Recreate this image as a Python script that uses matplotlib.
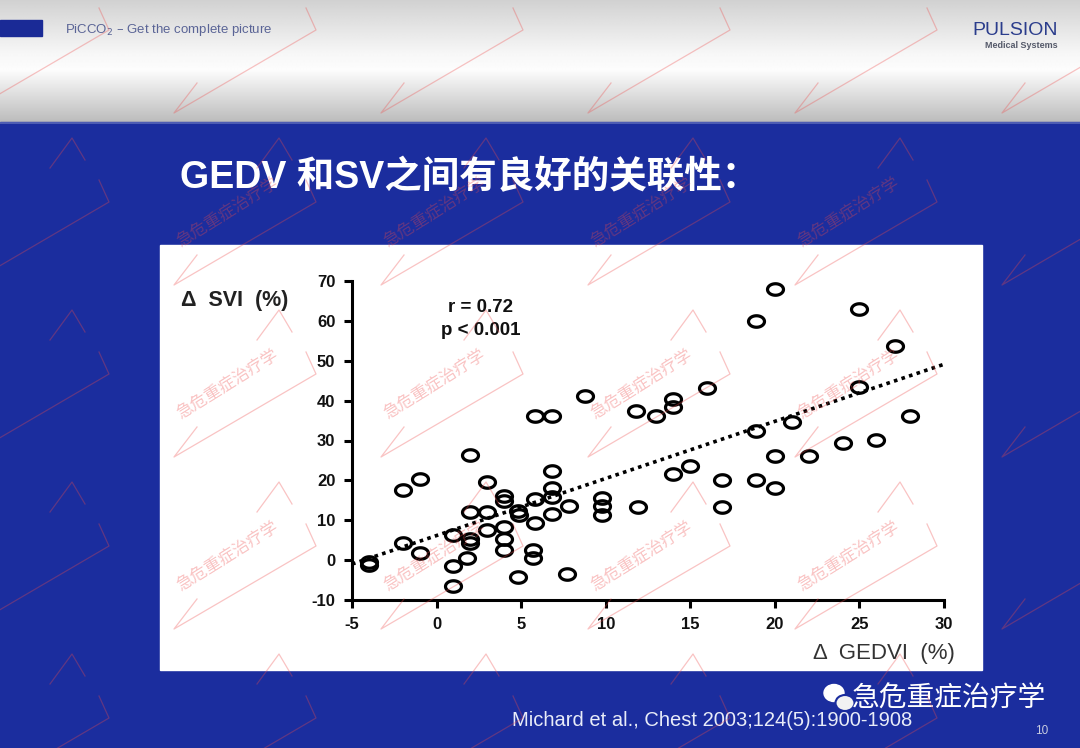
import numpy as np
import matplotlib
matplotlib.use('Agg')
import matplotlib.pyplot as plt
from matplotlib.patches import Rectangle, Ellipse
from matplotlib.path import Path

# Δ GEDVI (%) vs Δ SVI (%)
gedvi = [-4, -4, -2, -1, -2, -1, 1, 1, 1, 2, 2, 2, 2, 1.8, 3, 3, 3,
         4, 4, 4, 4, 4, 4.8, 4.9, 4.8, 5.8, 5.8, 5.7, 5.7, 5.8, 6.8,
         6.8, 6.8, 6.8, 6.8, 7.8, 7.7, 8.8, 9.8, 9.8, 9.8, 11.8, 11.9,
         13.0, 14.0, 14.0, 14.0, 15.0, 16.0, 16.9, 16.9, 18.9, 18.9,
         18.9, 20.0, 20.0, 20.0, 21.0, 22.0, 24.0, 25.0, 25.0, 26.0,
         27.1, 28.0]
svi = [-0.4, -1.3, 17.5, 20.3, 4.4, 1.7, 6.2, -1.4, -6.4, 26.4, 12.1,
       5.4, 4.2, 0.6, 19.6, 12.1, 7.5, 16.2, 14.8, 8.3, 5.4, 2.5, 12.4,
       11.3, -4.2, 15.4, 9.2, 2.5, 0.6, 36.2, 36.2, 22.3, 18.2, 15.8,
       11.6, 13.6, -3.4, 41.2, 15.7, 13.5, 11.4, 37.4, 13.4, 36.2, 40.4,
       38.4, 21.5, 23.5, 43.2, 20.2, 13.2, 60.0, 32.5, 20.2, 67.9, 26.2,
       18.1, 34.6, 26.2, 29.4, 62.9, 43.5, 30.2, 53.8, 36.2]

x_ticks = [-5, 0, 5, 10, 15, 20, 25, 30]
y_ticks = [-10, 0, 10, 20, 30, 40, 50, 60, 70]

title = 'GEDV 和SV之间有良好的关联性：'
stats_text = 'r = 0.72\np < 0.001'
citation = 'Michard et al., Chest 2003;124(5):1900-1908'
wm_text = '急危重症治疗学'

LATIN = ['Liberation Sans', 'DejaVu Sans']
MIXED = ['Liberation Sans', 'Noto Sans CJK SC', 'DejaVu Sans']
CJK = ['Noto Sans CJK SC', 'DejaVu Sans']

BLUE = '#1b2d9e'
W, H = 1080, 748

plt.rcParams['axes.unicode_minus'] = False


def main():
    fig = plt.figure(figsize=(W / 100, H / 100), dpi=100)

    # slide background, pixel coordinates
    bg = fig.add_axes([0, 0, 1, 1])
    bg.set_xlim(0, W)
    bg.set_ylim(H, 0)
    bg.axis('off')

    grad = np.concatenate([np.linspace(0.82, 0.97, 55),
                           np.linspace(0.97, 0.99, 15),
                           np.linspace(0.99, 0.74, 52)])
    bg.imshow(np.tile(grad[:, None], (1, 4)), cmap='gray', vmin=0, vmax=1,
              extent=[0, W, 122, 0], aspect='auto', zorder=0)
    bg.add_patch(Rectangle((0, 122), W, H - 122, color=BLUE, zorder=1))
    bg.plot([0, W], [122.5, 122.5], color='#5866b8', lw=1.2, zorder=2)
    bg.add_patch(Rectangle((0, 20), 42, 16, color='#1a2a96', zorder=2))

    bg.text(65, 30, 'PiCCO$_2$ – Get the complete picture', family=LATIN,
            fontsize=9.5, color='#5a6496', va='center', zorder=3)
    bg.text(1058, 30, 'PULSION', family=LATIN, fontsize=14, color='#2b3d8c',
            ha='right', va='center', zorder=3)
    bg.text(1058, 45, 'Medical Systems', family=LATIN, fontsize=6.5,
            color='#555a6a', ha='right', va='center', weight='bold', zorder=3)

    bg.text(180, 178, title, family=MIXED, fontsize=27, weight='bold',
            color='white', va='center', zorder=3)

    bg.add_patch(Rectangle((160, 245), 822, 425, color='white', zorder=2))

    bg.text(512, 720, citation, family=LATIN, fontsize=14.5, color='#e8ecf8',
            va='center', zorder=3)
    bg.text(1048, 731, '10', family=LATIN, fontsize=8.5, color='#c8cce0',
            ha='right', va='center', zorder=3)

    # wechat badge
    bg.add_patch(Ellipse((834, 693), 20, 17, color='white', zorder=3))
    bg.add_patch(Ellipse((845, 703), 19, 16, color='#f2f2f2', ec=BLUE,
                         lw=1.5, zorder=3))
    bg.text(852, 699, wm_text, family=CJK, fontsize=20, color='white',
            va='center', zorder=3)

    # scatter plot
    left, right, top, bottom = 352, 944, 281, 600
    ax = fig.add_axes([left / W, 1 - bottom / H, (right - left) / W,
                       (bottom - top) / H])
    ax.patch.set_alpha(0)

    t = np.linspace(0, 2 * np.pi, 48)
    ell = Path(np.column_stack([np.cos(t), 0.72 * np.sin(t)]), closed=True)
    ax.plot(gedvi, svi, ls='none', marker=ell, ms=11.5, mfc='none',
            mec='black', mew=2.3, zorder=3)

    slope, icpt = np.polyfit(gedvi, svi, 1)
    fx = np.array([-5, 30])
    ax.plot(fx, slope * fx + icpt, color='black', lw=2.6, ls=(0, (1, 1.2)),
            zorder=2)

    ax.set_xlim(-5, 30)
    ax.set_ylim(-10, 70)
    ax.set_xticks(x_ticks)
    ax.set_yticks(y_ticks)
    for s in ['top', 'right']:
        ax.spines[s].set_visible(False)
    for s in ['left', 'bottom']:
        ax.spines[s].set_linewidth(2.2)
        ax.spines[s].set_capstyle('projecting')
    ax.tick_params(length=6, width=2.2, pad=6, labelsize=12)
    for lab in ax.get_xticklabels() + ax.get_yticklabels():
        lab.set_fontfamily(LATIN)
        lab.set_fontweight('bold')
        lab.set_color('#111111')

    bg.text(181, 300, 'Δ  SVI  (%)', family=LATIN, fontsize=15.5,
            weight='bold', color='#222222', va='center', zorder=3)
    bg.text(955, 653, 'Δ  GEDVI  (%)', family=LATIN, fontsize=16,
            color='#333333', ha='right', va='center', zorder=3)
    bg.text(481, 319, stats_text, family=LATIN, fontsize=13.5, weight='bold',
            color='#111111', ha='center', va='center', multialignment='center',
            linespacing=1.45, zorder=3)

    # watermark overlay
    wm = fig.add_axes([0, 0, 1, 1], zorder=10)
    wm.set_xlim(0, W)
    wm.set_ylim(H, 0)
    wm.axis('off')
    for cy in range(40, 800, 172):
        for cx in range(20, 1150, 207):
            if 80 < cx < 1000 and 60 < cy < 700:
                wm.text(cx, cy, wm_text, family=CJK, fontsize=12,
                        color='#ee4a4a', alpha=0.33, rotation=32,
                        ha='center', va='center', rotation_mode='anchor')
            wm.plot([cx + 79, cx + 89, cx - 53, cx - 30],
                    [cy - 32, cy - 10, cy + 73, cy + 43],
                    color='#ee4a4a', alpha=0.33, lw=0.9)
            wm.plot([cx + 65, cx + 52, cx + 30],
                    [cy - 52, cy - 74, cy - 44],
                    color='#ee4a4a', alpha=0.33, lw=0.9)

    fig.savefig('out.png', dpi=100)


if __name__ == '__main__':
    main()
